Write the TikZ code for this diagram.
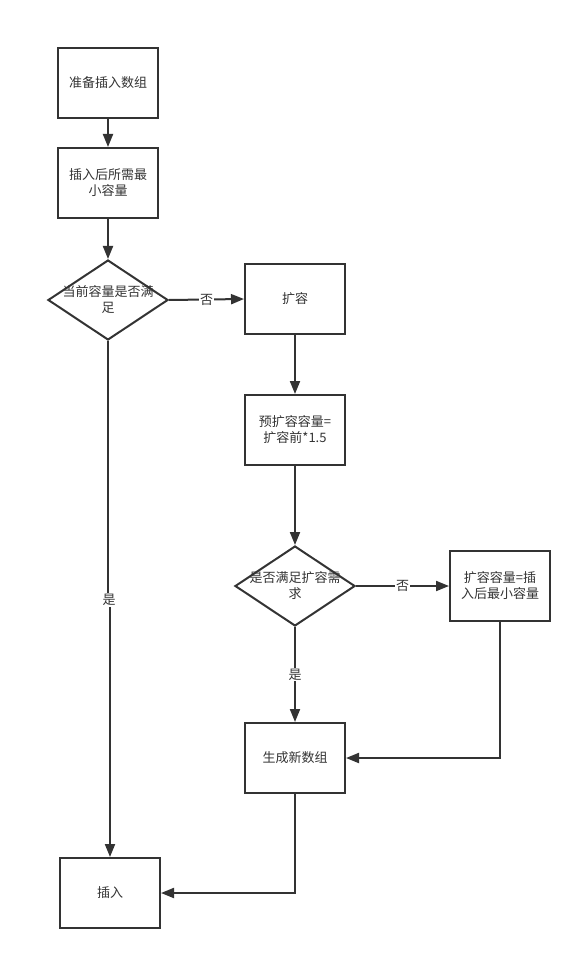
\documentclass[tikz,border=0pt]{standalone}
\usepackage{fontspec}
\setmainfont{Noto Sans CJK SC}
\usetikzlibrary{shapes.geometric,arrows.meta}
\definecolor{ink}{HTML}{333333}
\tikzset{
  box/.style={draw=ink, line width=2pt, minimum width=100pt, minimum height=70pt, inner sep=0pt, text=ink, align=center, font=\fontsize{13}{16}\selectfont},
  dia/.style={draw=ink, line width=2pt, shape=diamond, minimum width=120pt, minimum height=80pt, inner sep=0pt},
  dtext/.style={text=ink, align=center, font=\fontsize{13}{16}\selectfont, inner sep=0pt},
  conn/.style={draw=ink, line width=2pt, -{Triangle[length=13pt,width=10pt]}},
  line/.style={draw=ink, line width=2pt},
  lbl/.style={fill=white, text=ink, font=\fontsize{13}{16}\selectfont, inner sep=1pt},
}
\begin{document}
\begin{tikzpicture}[x=1pt,y=-1pt]
\useasboundingbox (0,0) rectangle (582,960);
\node[box] (n1) at (108,83) {准备插入数组};
\node[box] (n2) at (108,183) {插入后所需最\\小容量};
\node[dia] (d1) at (108,300) {};
\node[dtext] (t1) at (108,300) {当前容量是否满\\足};
\node[box] (n4) at (295,299) {扩容};
\node[box] (n5) at (295,430) {预扩容容量=\\扩容前*1.5};
\node[dia] (d2) at (295,586) {};
\node[dtext] (t2) at (295,586) {是否满足扩容需\\求};
\node[box] (n7) at (500,586) {扩容容量=插\\入后最小容量};
\node[box] (n8) at (295,758) {生成新数组};
\node[box] (n9) at (110,893) {插入};

\draw[conn] (n1) -- (n2);
\draw[conn] (n2) -- (d1);
\draw[conn] (d1.east) -- node[lbl] (l1) {否} (n4.west);
\draw[conn] (n4) -- (n5);
\draw[conn] (n5) -- (d2);
\draw[conn] (d2.east) -- node[lbl] (l2) {否} (n7.west);
\draw[conn] (d2.south) -- node[lbl, pos=0.5] (l3) {是} (n8.north);
\draw[conn] (n7.south) |- (n8.east);
\draw[conn] (n8.south) |- (n9.east);
\node[lbl] (l4) at (109,600) {是};
\draw[line] (d1.south) -- (d1.south |- l4.north);
\draw[conn] (n9.north |- l4.south) -- (n9.north);
\end{tikzpicture}
\end{document}
